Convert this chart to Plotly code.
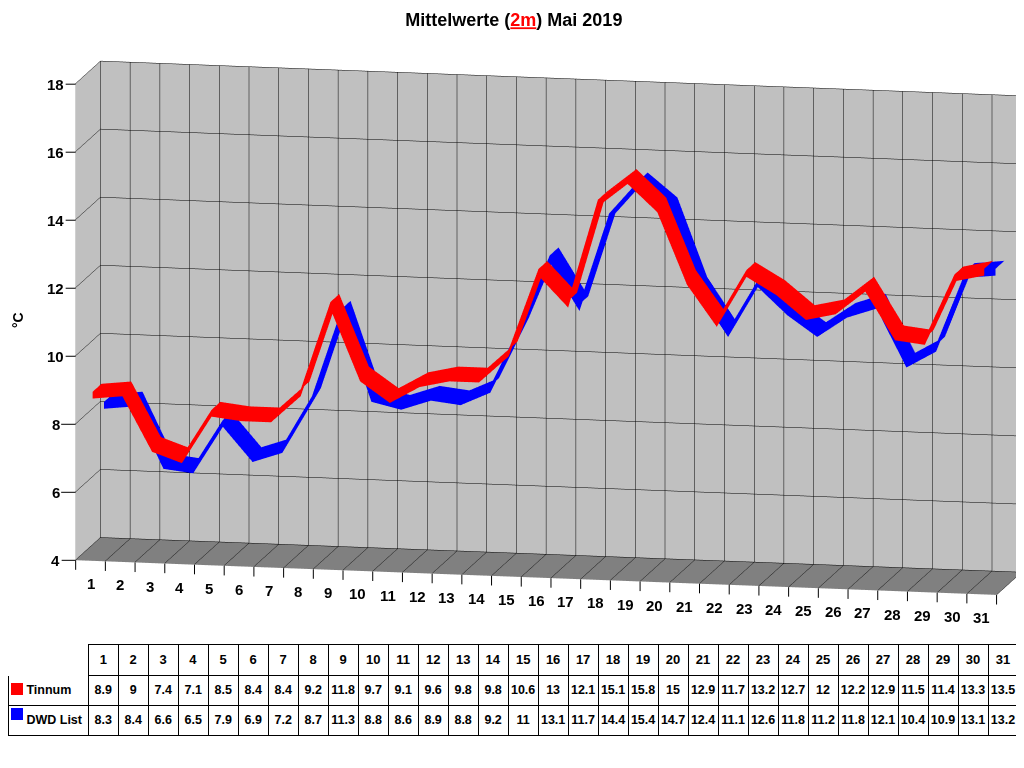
import numpy as np
import plotly.graph_objects as go

# Tageswerte Mai 2019
tage = list(range(1, 32))
tinnum = [8.9, 9, 7.4, 7.1, 8.5, 8.4, 8.4, 9.2, 11.8, 9.7, 9.1, 9.6, 9.8, 9.8, 10.6, 13,
          12.1, 15.1, 15.8, 15, 12.9, 11.7, 13.2, 12.7, 12, 12.2, 12.9, 11.5, 11.4, 13.3, 13.5]
dwd_list = [8.3, 8.4, 6.6, 6.5, 7.9, 6.9, 7.2, 8.7, 11.3, 8.8, 8.6, 8.9, 8.8, 9.2, 11, 13.1,
            11.7, 14.4, 15.4, 14.7, 12.4, 11.1, 12.6, 11.8, 11.2, 11.8, 12.1, 10.4, 10.9, 13.1, 13.2]
serien = ['Tinnum', 'DWD\u00a0List']
farben = ['#FF0000', '#0000FF']
z_ticks = [4, 6, 8, 10, 12, 14, 16, 18]

FONT = 'Liberation Sans, Arial, sans-serif'

# Tiefe der Baender (vorne Tinnum, hinten DWD) und Hoehe der Vorderkante
tiefen = [(0.2, 0.9), (1.1, 1.8)]
kante = 0.2

flach = dict(ambient=1, diffuse=0, specular=0, roughness=1, fresnel=0)

fig = go.Figure()
for name, werte, farbe, (y0, y1) in zip(serien, [tinnum, dwd_list], farben, tiefen):
    skala = [[0, farbe], [1, farbe]]
    # Oberseite des Bandes
    fig.add_trace(go.Surface(
        x=tage, y=[y0, y1], z=[werte, werte], colorscale=skala, showscale=False,
        name=name, lighting=flach, hoverinfo='skip'))
    # Vorderkante
    unten = [w - kante for w in werte]
    fig.add_trace(go.Surface(
        x=[tage, tage], y=[[y0] * 31, [y0] * 31], z=[unten, werte], colorscale=skala,
        showscale=False, name=name, lighting=flach, hoverinfo='skip'))

achse = dict(showbackground=True, gridcolor='black', gridwidth=1, showticklabels=False,
             title='', zeroline=False, showspikes=False, linecolor='black', showline=False)

# Beschriftungen und Striche der Achsen als Szenen-Annotationen
ann3d = []
for t in tage:
    ann3d.append(dict(x=t, y=0, z=4, text='<b>%d</b>' % t, showarrow=False, yshift=-23,
                      font=dict(family=FONT, size=15, color='black')))
for g in range(32):
    ann3d.append(dict(x=g + 0.5, y=0, z=4, text='', showarrow=True, arrowhead=0,
                      arrowwidth=1, arrowcolor='black', ax=0, ay=11))
for v in z_ticks:
    ann3d.append(dict(x=0.5, y=0, z=v, text='<b>%d</b>' % v, showarrow=True, arrowhead=0,
                      arrowwidth=1, arrowcolor='black', ax=-20, ay=0,
                      font=dict(family=FONT, size=15, color='black')))

fig.update_layout(
    width=1024, height=768, margin=dict(l=0, r=0, t=0, b=0),
    paper_bgcolor='white', showlegend=False,
    title=dict(text="<b>Mittelwerte (<span style='color:#FF0000'><u>2m</u></span>) Mai 2019</b>",
               x=0.494, y=1 - 12 / 768, xanchor='center', yanchor='middle',
               font=dict(family=FONT, size=18, color='black')),
    scene=dict(
        domain=dict(x=[0.056, 1.0], y=[0.203, 0.963]),
        xaxis=dict(achse, range=[0.5, 31.5], tickvals=[i + 0.5 for i in range(0, 32)],
                   backgroundcolor='#C0C0C0'),
        yaxis=dict(achse, range=[0, 2], tickvals=[], backgroundcolor='#C0C0C0'),
        zaxis=dict(achse, range=[4, 18], tickvals=z_ticks, backgroundcolor='#808080'),
        aspectmode='manual', aspectratio=dict(x=3.22, y=0.43, z=1.66),
        camera=dict(eye=dict(x=0.245, y=-1.2, z=0.23), center=dict(x=0, y=0, z=0),
                    up=dict(x=0, y=0, z=1), projection=dict(type='orthographic')),
        annotations=ann3d,
    ),
    annotations=[dict(x=10 / 1024, y=1 - 312 / 768, xref='paper', yref='paper', text='<b>°C</b>',
                      showarrow=False, textangle=-90, xanchor='center', yanchor='middle',
                      font=dict(family=FONT, size=14, color='black'))],
    shapes=[dict(type='rect', xref='paper', yref='paper', x0=3 / 1024, x1=15 / 1024,
                 y0=1 - 687 / 768, y1=1 - 675 / 768, fillcolor=farben[0], line_width=0),
            dict(type='rect', xref='paper', yref='paper', x0=3 / 1024, x1=15 / 1024,
                 y0=1 - 712 / 768, y1=1 - 700 / 768, fillcolor=farben[1], line_width=0)],
)

# Tabelle unten
kopf = [''] + ['<b>%d</b>' % t for t in tage]
spalten = [['\u00a0\u00a0\u00a0<b>%s</b>' % s for s in serien]]
for a, b in zip(tinnum, dwd_list):
    spalten.append(['<b>%g</b>' % a, '<b>%g</b>' % b])

fig.add_trace(go.Table(
    domain=dict(x=[0, 1010 / 1024], y=[1 - 755 / 768, 1 - 636 / 768]),
    columnwidth=[80] + [29.9] * 31,
    header=dict(values=kopf, height=29, align='center', fill_color='white',
                line=dict(color=['white'] + ['black'] * 31, width=1),
                font=dict(family=FONT, size=13, color='black')),
    cells=dict(values=spalten, height=26, align=['left'] + ['center'] * 31, fill_color='white',
               line=dict(color='black', width=1),
               font=dict(family=FONT, size=12.5, color='black')),
))

fig.write_html("out.html")
